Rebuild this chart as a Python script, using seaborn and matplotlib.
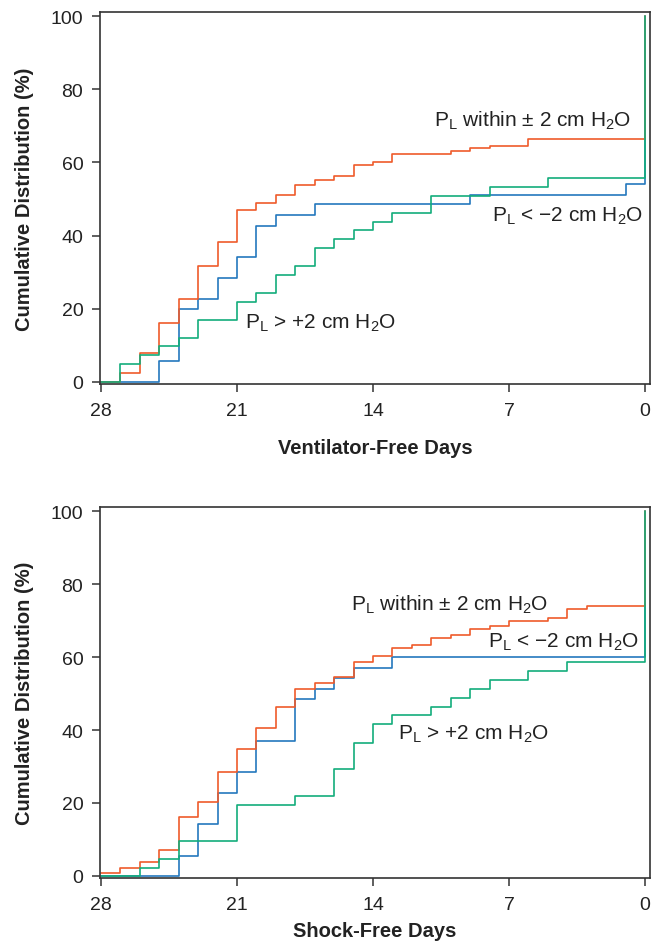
import numpy as np
import pandas as pd
import matplotlib
matplotlib.use("Agg")
import matplotlib.pyplot as plt
import seaborn as sns

sns.set_theme(style="ticks")
plt.rcParams['font.family'] = ['Liberation Sans', 'DejaVu Sans']
plt.rcParams['mathtext.fontset'] = 'custom'
plt.rcParams['mathtext.rm'] = 'Liberation Sans'
plt.rcParams['mathtext.it'] = 'Liberation Sans:italic'
plt.rcParams['mathtext.bf'] = 'Liberation Sans:bold'

days = list(range(28, -1, -1))

# Ventilator-free days (cumulative %)
vent_within = [0, 2.4, 8.0, 16.2, 22.8, 31.7, 38.2, 47.1, 48.8, 51.2, 53.7, 55.3, 56.2, 59.2,
               60.0, 62.4, 62.4, 62.4, 63.1, 63.9, 64.6, 64.6, 66.4, 66.4, 66.4, 66.4, 66.4, 66.4, 100]
vent_low = [0, 0, 0, 5.6, 19.9, 22.7, 28.5, 34.2, 42.7, 45.7, 45.7, 48.5, 48.5, 48.5,
            48.5, 48.5, 48.5, 48.5, 48.5, 51.0, 51.0, 51.0, 51.0, 51.0, 51.0, 51.0, 51.0, 54.1, 100]
vent_high = [0, 4.8, 7.3, 9.7, 12.1, 17.0, 17.0, 21.9, 24.3, 29.2, 31.7, 36.5, 39.0, 41.4,
             43.7, 46.1, 46.1, 50.9, 50.9, 50.9, 53.4, 53.4, 53.4, 55.8, 55.8, 55.8, 55.8, 55.8, 100]

# Shock-free days (cumulative %)
shock_within = [0.8, 2.3, 3.9, 7.2, 16.2, 20.3, 28.4, 34.9, 40.5, 46.3, 51.1, 52.9, 54.5, 58.5,
                60.2, 62.6, 63.4, 65.1, 65.9, 67.6, 68.4, 70.0, 70.0, 70.8, 73.2, 74.1, 74.1, 74.1, 100]
shock_low = [0, 0, 0, 0, 5.6, 14.2, 22.7, 28.4, 37.0, 37.0, 48.4, 51.2, 54.2, 57.1,
             57.1, 60.0, 60.0, 60.0, 60.0, 60.0, 60.0, 60.0, 60.0, 60.0, 60.0, 60.0, 60.0, 60.0, 100]
shock_high = [0, 0, 2.3, 4.7, 9.7, 9.7, 9.7, 19.5, 19.5, 19.5, 21.9, 21.9, 29.2, 36.5,
              41.6, 44.0, 44.0, 46.4, 48.8, 51.2, 53.6, 53.6, 56.1, 56.1, 58.5, 58.5, 58.5, 58.5, 100]

groups = ["within", "low", "high"]
colors = {"within": "#EF5B2B", "low": "#2478BD", "high": "#13AD7B"}

xticks = [28, 21, 14, 7, 0]
yticks = [0, 20, 40, 60, 80, 100]

lab_within = r'P$_\mathregular{L}$ within ± 2 cm H$_\mathregular{2}$O'
lab_low = r'P$_\mathregular{L}$ < −2 cm H$_\mathregular{2}$O'
lab_high = r'P$_\mathregular{L}$ > +2 cm H$_\mathregular{2}$O'


def make_df(within, low, high):
    rows = []
    for g, vals in zip(groups, [within, low, high]):
        for d, v in zip(days, vals):
            rows.append({"day": d, "pct": v, "group": g})
    return pd.DataFrame(rows)


fig = plt.figure(figsize=(6.52, 9.45), dpi=100)
ax1 = fig.add_axes([100 / 652, 1 - 385 / 945, 550 / 652, 372 / 945])
ax2 = fig.add_axes([100 / 652, 1 - 879 / 945, 550 / 652, 371 / 945])

panels = [
    (ax1, make_df(vent_within, vent_low, vent_high), "Ventilator-Free Days",
     [(0.7, 70.0, lab_within, 'right'), (0.1, 44.0, lab_low, 'right'), (20.6, 14.9, lab_high, 'left')]),
    (ax2, make_df(shock_within, shock_low, shock_high), "Shock-Free Days",
     [(5.0, 72.9, lab_within, 'right'), (0.3, 62.8, lab_low, 'right'), (12.7, 37.6, lab_high, 'left')]),
]

for ax, df, xlabel, texts in panels:
    sns.lineplot(data=df, x="day", y="pct", hue="group", hue_order=["low", "within", "high"],
                 palette=colors, sort=False, estimator=None, drawstyle="steps-post",
                 linewidth=1.2, legend=False, ax=ax)
    ax.set_xlim(28.05, -0.26)
    ax.set_ylim(-0.55, 101.1)
    ax.set_xticks(xticks)
    ax.set_xticklabels([str(t) for t in xticks])
    ax.set_yticks(yticks)
    ax.set_yticklabels([str(t) for t in yticks])
    ax.tick_params(axis='both', direction='out', length=6, width=1.1, color='#333333',
                   labelsize=14, labelcolor='#222222')
    ax.tick_params(axis='x', pad=7)
    ax.tick_params(axis='y', pad=6)
    for s in ax.spines.values():
        s.set_visible(True)
        s.set_color('#333333')
        s.set_linewidth(1.2)
    ax.set_xlabel(xlabel, fontsize=14.5, fontweight='bold', color='#222222', labelpad=14)
    ax.set_ylabel("Cumulative Distribution (%)", fontsize=14.5, fontweight='bold',
                  color='#222222', labelpad=12)
    for x, y, t, ha in texts:
        ax.text(x, y, t, ha=ha, va='baseline', fontsize=15, color='#222222')

ax2.xaxis.labelpad = 6

fig.savefig("out.png", dpi=100)
